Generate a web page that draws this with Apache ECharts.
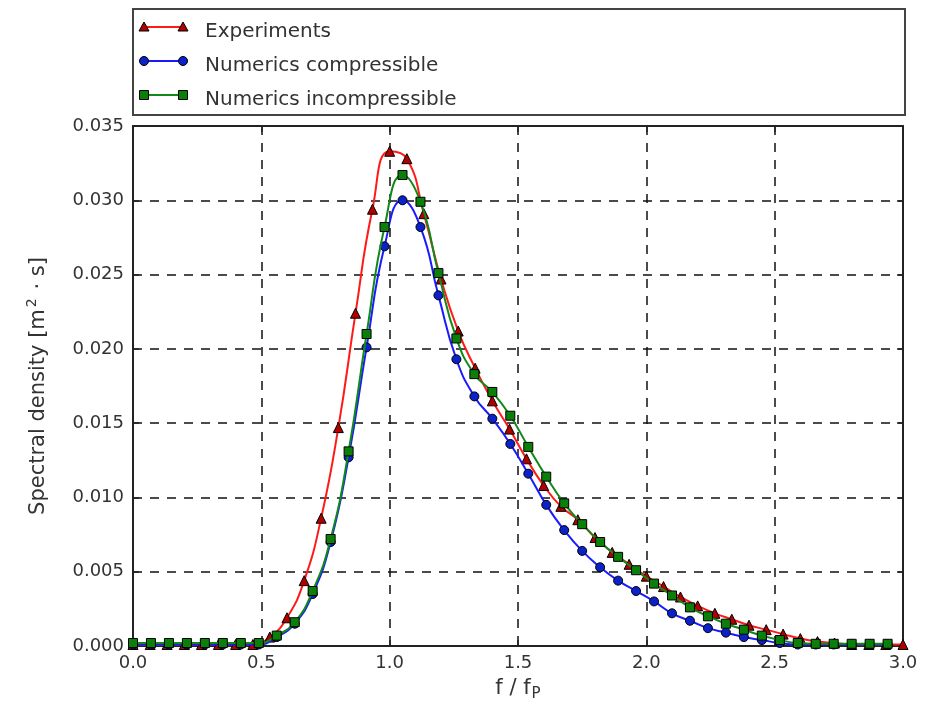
<!DOCTYPE html>
<html>
<head>
<meta charset="utf-8">
<script src="https://cdn.jsdelivr.net/npm/echarts@6/dist/echarts.min.js"></script>
<style>
html,body{margin:0;padding:0;background:#fff;}
#chart{width:939px;height:708px;}
</style>
</head>
<body>
<div id="chart"></div>
<script>
// ---- data ----
var fExp = [0.000,0.067,0.133,0.200,0.267,0.333,0.400,0.467,0.533,0.600,0.667,0.733,0.800,0.867,0.933,1.000,1.067,1.133,1.200,1.267,1.333,1.400,1.467,1.533,1.600,1.667,1.733,1.800,1.867,1.933,2.000,2.067,2.133,2.200,2.267,2.333,2.400,2.467,2.533,2.600,2.667,2.733,2.800,2.867,2.933,3.000];
var sExp = [0.0001,0.0001,0.0001,0.0001,0.0001,0.0001,0.0001,0.0001,0.0006,0.0019,0.0044,0.0086,0.0147,0.0224,0.0294,0.0333,0.0328,0.0291,0.0247,0.0212,0.0187,0.0165,0.0146,0.0126,0.0108,0.0094,0.0085,0.0073,0.0063,0.0055,0.0047,0.0040,0.0033,0.0027,0.0022,0.0018,0.0014,0.0011,0.0008,0.0005,0.0003,0.0002,0.0001,0.0001,0.0001,0.0001];

var fNum = [0.00,0.07,0.14,0.21,0.28,0.35,0.42,0.49,0.56,0.63,0.70,0.77,0.84,0.91,0.98,1.05,1.12,1.19,1.26,1.33,1.40,1.47,1.54,1.61,1.68,1.75,1.82,1.89,1.96,2.03,2.10,2.17,2.24,2.31,2.38,2.45,2.52,2.59,2.66,2.73,2.80,2.87,2.94];
var sComp = [0.0001,0.0001,0.0001,0.0001,0.0001,0.0001,0.0001,0.0001,0.0006,0.0015,0.0035,0.0070,0.0127,0.0201,0.0269,0.0300,0.0282,0.0236,0.0193,0.0168,0.0153,0.0136,0.0116,0.0095,0.0078,0.0064,0.0053,0.0044,0.0037,0.0030,0.0022,0.0017,0.0012,0.0009,0.0006,0.0004,0.0002,0.0001,0.0001,0.0001,0.0001,0.0001,0.0001];
var sIncomp = [0.0002,0.0002,0.0002,0.0002,0.0002,0.0002,0.0002,0.0002,0.0007,0.0016,0.0037,0.0072,0.0131,0.0210,0.0282,0.0317,0.0299,0.0251,0.0207,0.0183,0.0171,0.0155,0.0134,0.0114,0.0096,0.0082,0.0070,0.0060,0.0051,0.0042,0.0034,0.0026,0.0020,0.0015,0.0011,0.0007,0.0004,0.0002,0.00015,0.00015,0.00015,0.00015,0.00015];

var seriesNames = ['Experiments','Numerics compressible','Numerics incompressible'];
var xTicks = [0.0,0.5,1.0,1.5,2.0,2.5,3.0];
var yTicks = [0.000,0.005,0.010,0.015,0.020,0.025,0.030,0.035];

function pairs(xs, ys){ return xs.map(function(x,i){ return [x, ys[i]]; }); }

var FONT = 'DejaVu Sans';
var TXT = '#333';
var chart = echarts.init(document.getElementById('chart'), null, {renderer:'canvas'});

var gridLine = {show:true, lineStyle:{color:'#111', width:1.5, type:[9,8]}};
var axLine = {show:true, onZero:false, lineStyle:{color:'#222', width:2}};
var tick = {show:true, inside:true, length:6, lineStyle:{color:'#222', width:1.5}};

var lineColors = ['#ff1a1a','#1a1aff','#11881a'];
var fillColors = ['#b00000','#0a22c8','#0a800a'];
var symbols = ['triangle','circle','rect'];
var symSizes = [10,9,9];

function mkSeries(i, data){
  return {
    name: seriesNames[i], type:'line', data:data, smooth:0.5,
    symbol: symbols[i], symbolSize: symSizes[i], showSymbol:true,
    lineStyle:{color:lineColors[i], width:2},
    itemStyle:{color:fillColors[i], borderColor:'#000', borderWidth:1},
    emphasis:{disabled:true}, animation:false, z: 3+i
  };
}

// legend icons (decoration only)
var legendRows = [27,61,95];
var iconGraphics = [];
legendRows.forEach(function(y,i){
  iconGraphics.push({type:'line', shape:{x1:144,y1:y,x2:183,y2:y}, style:{stroke:lineColors[i], lineWidth:2}, z:100});
  [144,183].forEach(function(x){
    var st = {fill:fillColors[i], stroke:'#000', lineWidth:1};
    if(i===0) iconGraphics.push({type:'polygon', shape:{points:[[x,y-5],[x+5,y+4],[x-5,y+4]]}, style:st, z:101});
    else if(i===1) iconGraphics.push({type:'circle', shape:{cx:x,cy:y,r:4.5}, style:st, z:101});
    else iconGraphics.push({type:'rect', shape:{x:x-4.5,y:y-4.5,width:9,height:9}, style:st, z:101});
  });
});

var option = {
  backgroundColor:'#fff',
  animation:false,
  grid:{left:133, right:36, top:126, bottom:62, show:false},
  legend:{
    data: seriesNames, orient:'vertical', left:143, top:17,
    itemWidth:51, itemHeight:14, itemGap:14, selectedMode:false,
    itemStyle:{opacity:0}, lineStyle:{opacity:0},
    textStyle:{fontFamily:FONT, fontSize:20, color:TXT, lineHeight:20}
  },
  graphic: [{type:'rect', shape:{x:133,y:9,width:772,height:106}, style:{fill:'none', stroke:'#444', lineWidth:2}, z:99}].concat(iconGraphics),
  xAxis:[{
    type:'value', min:0, max:3, interval:0.5, position:'bottom',
    axisLine:axLine, axisTick:tick, splitLine:gridLine,
    axisLabel:{formatter:function(v){return v.toFixed(1);}, fontFamily:FONT, fontSize:18, color:TXT, margin:8},
    name:'{a|f / f}{b|P}', nameLocation:'middle', nameGap:30,
    nameTextStyle:{rich:{a:{fontFamily:FONT, fontSize:21, color:TXT, lineHeight:26}, b:{fontFamily:FONT, fontSize:15, color:TXT, lineHeight:26, verticalAlign:'bottom', padding:[10,0,0,1]}}}
  },{
    type:'value', min:0, max:3, interval:0.5, position:'top',
    axisLine:axLine, axisTick:tick, splitLine:{show:false}, axisLabel:{show:false}
  }],
  yAxis:[{
    type:'value', min:0, max:0.035, interval:0.005, position:'left',
    axisLine:axLine, axisTick:tick, splitLine:gridLine,
    axisLabel:{formatter:function(v){return v.toFixed(3);}, fontFamily:FONT, fontSize:18, color:TXT, margin:9},
    name:'{a|Spectral density [m}{s|2}{a| · s]}', nameLocation:'middle', nameGap:80, nameRotate:90,
    nameTextStyle:{rich:{a:{fontFamily:FONT, fontSize:21, color:TXT, lineHeight:28}, s:{fontFamily:FONT, fontSize:14, color:TXT, lineHeight:28, verticalAlign:'top', padding:[0,2,10,2]}}}
  },{
    type:'value', min:0, max:0.035, interval:0.005, position:'right',
    axisLine:axLine, axisTick:tick, splitLine:{show:false}, axisLabel:{show:false}
  }],
  series:[
    mkSeries(0, pairs(fExp, sExp)),
    mkSeries(1, pairs(fNum, sComp)),
    mkSeries(2, pairs(fNum, sIncomp))
  ]
};
chart.setOption(option);
</script>
</body>
</html>
